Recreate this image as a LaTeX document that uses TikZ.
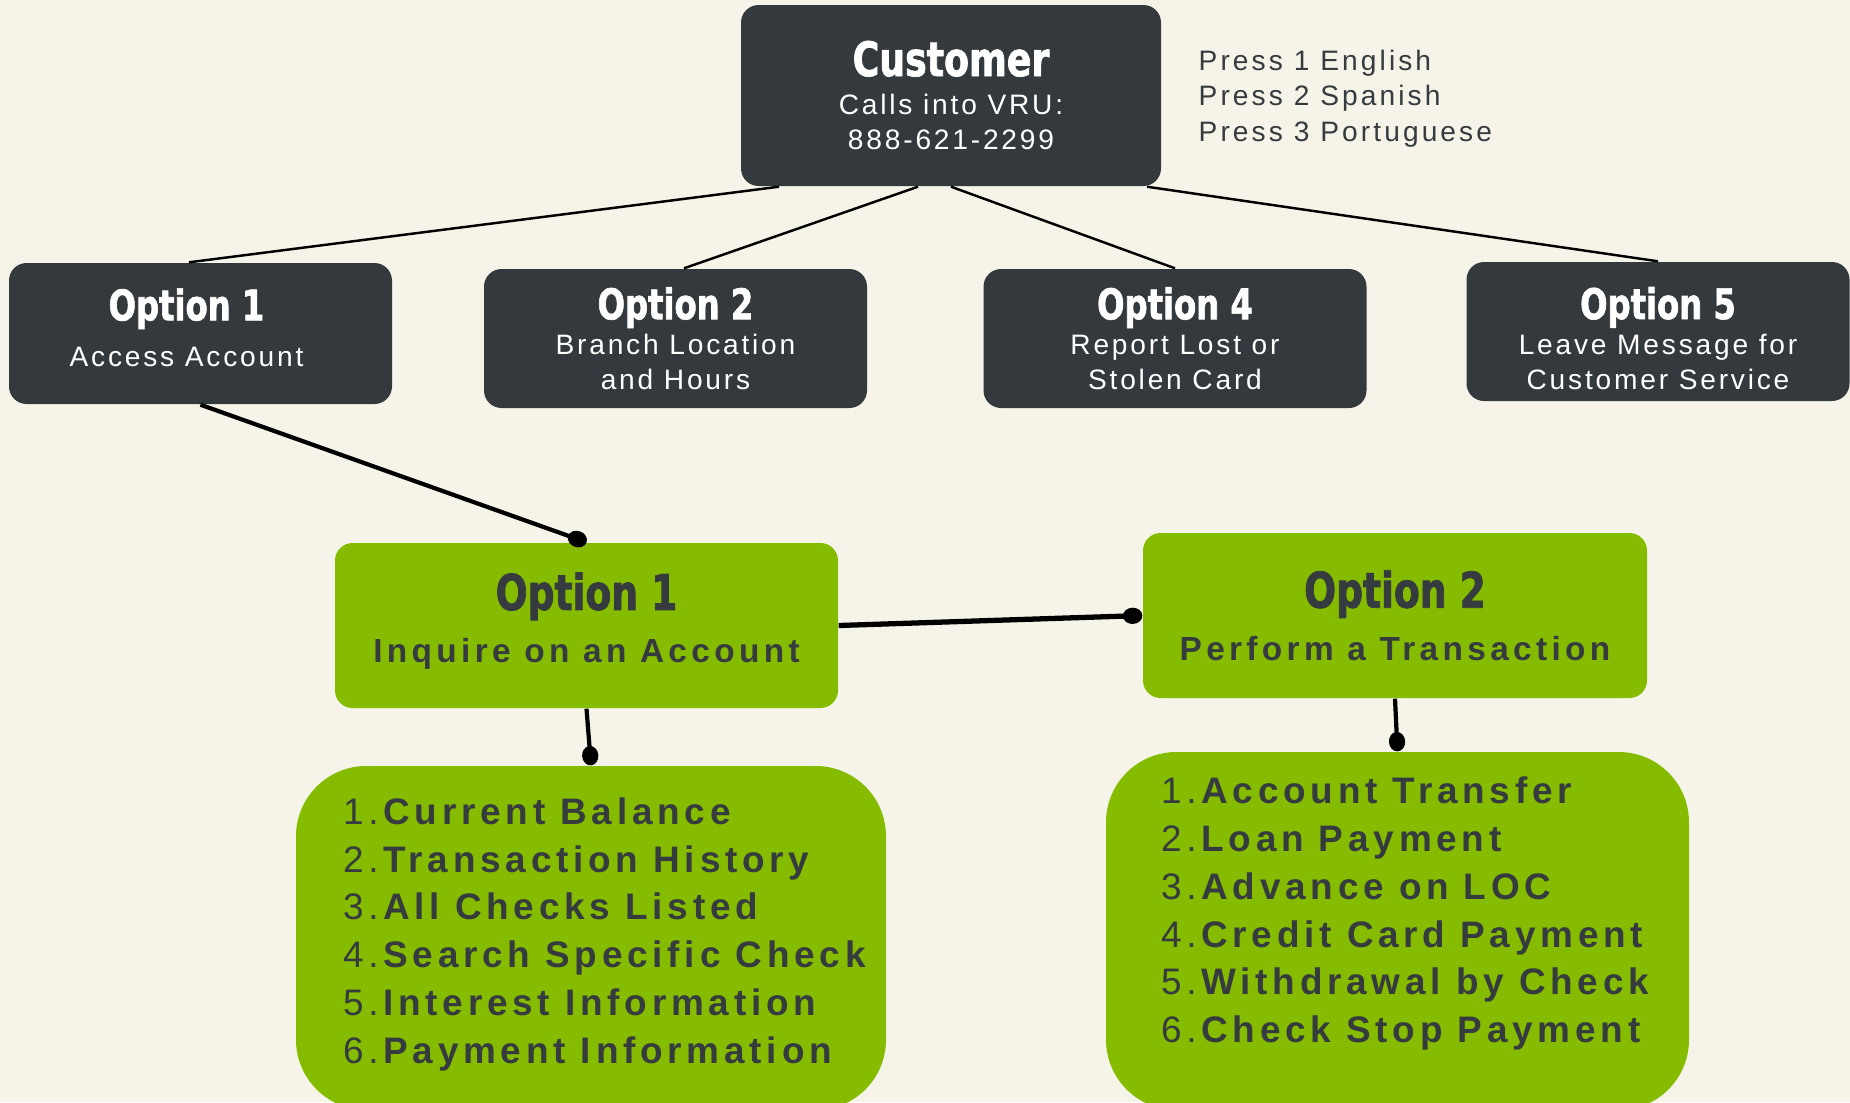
\documentclass[tikz,border=0pt]{standalone}
\usepackage{fontspec}
\setmainfont{Liberation Sans}
\newfontfamily\titlefont{DejaVu Sans Condensed Bold}[FakeStretch=0.85,FakeBold=1.5]
\newfontfamily\spacedfont{Liberation Sans}[LetterSpace=10]
\newfontfamily\pressfont{Liberation Sans}[LetterSpace=11]
\newfontfamily\widefont{Liberation Sans}[LetterSpace=13]
\usetikzlibrary{arrows.meta,positioning}
\definecolor{bggreige}{HTML}{F6F4E8}
\definecolor{boxgray}{HTML}{34393D}
\definecolor{leaf}{HTML}{85BC00}
\definecolor{inkgray}{HTML}{363B3F}
\newcommand{\boxtitle}[2]{{\titlefont\fontsize{#1}{#1}\selectfont #2}}
\tikzset{darkbox/.style={fill=boxgray,rounded corners=5pt,text=white,align=center,inner sep=0pt,
                         minimum width=3.83cm,minimum height=1.39cm,font=\spacedfont\fontsize{8}{10}\selectfont},
         headbox/.style={fill=leaf,rounded corners=5pt,text=inkgray,align=center,inner sep=0pt,
                         minimum width=5.03cm,minimum height=1.65cm,font=\widefont\bfseries\fontsize{9.5}{11}\selectfont},
         listbox/.style={fill=leaf,rounded corners=20pt,inner sep=0pt},
         listtext/.style={anchor=north west,align=left,inner sep=0pt,text=inkgray,
                          font=\widefont\fontsize{10.5}{13.6}\selectfont},
         link/.style={line width=0.7pt},
         dotlink/.style={line width=1.2pt,-{Circle[length=5.5pt,width=4.6pt]}}}

\begin{document}
\begin{tikzpicture}
    \fill[bggreige] (0,0) rectangle (18.5,-11.02);
    \useasboundingbox (0,0) rectangle (18.5,-11.02);

    % caller and menu
    \node[darkbox,minimum width=4.2cm,minimum height=1.81cm] (cust) at (9.51,-0.955)
        {\boxtitle{13.5}{Customer}\\[1pt]Calls into VRU:\\888-621-2299};
    \node[anchor=north west,align=left,inner sep=0pt,text=inkgray,
          font=\pressfont\fontsize{8}{10.2}\selectfont] (press) at (11.98,-0.49)
        {Press 1 English\\Press 2 Spanish\\Press 3 Portuguese};

    \node[darkbox,minimum height=1.41cm] (opt1) at (2.005,-3.335)
        {\boxtitle{12}{Option 1}\hspace*{0.28cm}\\[3pt]Access Account\hspace*{0.28cm}\rule[-3.6pt]{0pt}{3.6pt}};
    \node[darkbox] (opt2) at (6.755,-3.385) {\boxtitle{12}{Option 2}\\Branch Location\\and Hours};
    \node[darkbox] (opt4) at (11.75,-3.385) {\boxtitle{12}{Option 4}\\Report Lost or\\Stolen Card};
    \node[darkbox] (opt5) at (16.58,-3.315) {\boxtitle{12}{Option 5}\rule{0pt}{13pt}\\Leave Message for\\Customer Service};

    % account access
    \node[headbox] (inq) at (5.865,-6.255)
        {\boxtitle{14}{Option 1}\\[4pt]Inquire on an Account\rule[-4.5pt]{0pt}{4.5pt}};
    \node[headbox,minimum width=5.04cm] (trn) at (13.95,-6.155) {\boxtitle{14}{Option 2}\\[4pt]Perform a Transaction};

    \node[listbox,minimum width=5.9cm,minimum height=3.44cm] (inqlist) at (5.91,-9.38) {};
    \node[listtext] (inqitems) at ([shift={(0.47,-0.315)}]inqlist.north west)
        {1.\textbf{Current Balance}\\2.\textbf{Transaction History}\\3.\textbf{All Checks Listed}\\
         4.\textbf{Search Specific Check}\\5.\textbf{Interest Information}\\6.\textbf{Payment Information}};
    \node[listbox,minimum width=5.83cm,minimum height=3.58cm] (trnlist) at (13.975,-9.31) {};
    \node[listtext] (trnitems) at ([shift={(0.55,-0.25)}]trnlist.north west)
        {1.\textbf{Account Transfer}\\2.\textbf{Loan Payment}\\3.\textbf{Advance on LOC}\\
         4.\textbf{Credit Card Payment}\\5.\textbf{Withdrawal by Check}\\6.\textbf{Check Stop Payment}};

    \draw[link] ([xshift=-1.72cm]cust.south) -- ([xshift=-0.115cm]opt1.north);
    \draw[link] ([xshift=-0.33cm]cust.south) -- ([xshift=0.085cm]opt2.north);
    \draw[link] (cust.south) -- (opt4.north);
    \draw[link] ([xshift=1.96cm]cust.south) -- (opt5.north);

    \draw[dotlink] (opt1.south) -- (inq.north);
    \draw[dotlink,line width=1.5pt] (inq.east) -- (trn.west);
    \draw[dotlink] (inq.south) -- (inqlist.north);
    \draw[dotlink] (trn.south) -- (trnlist.north);
\end{tikzpicture}
\end{document}
